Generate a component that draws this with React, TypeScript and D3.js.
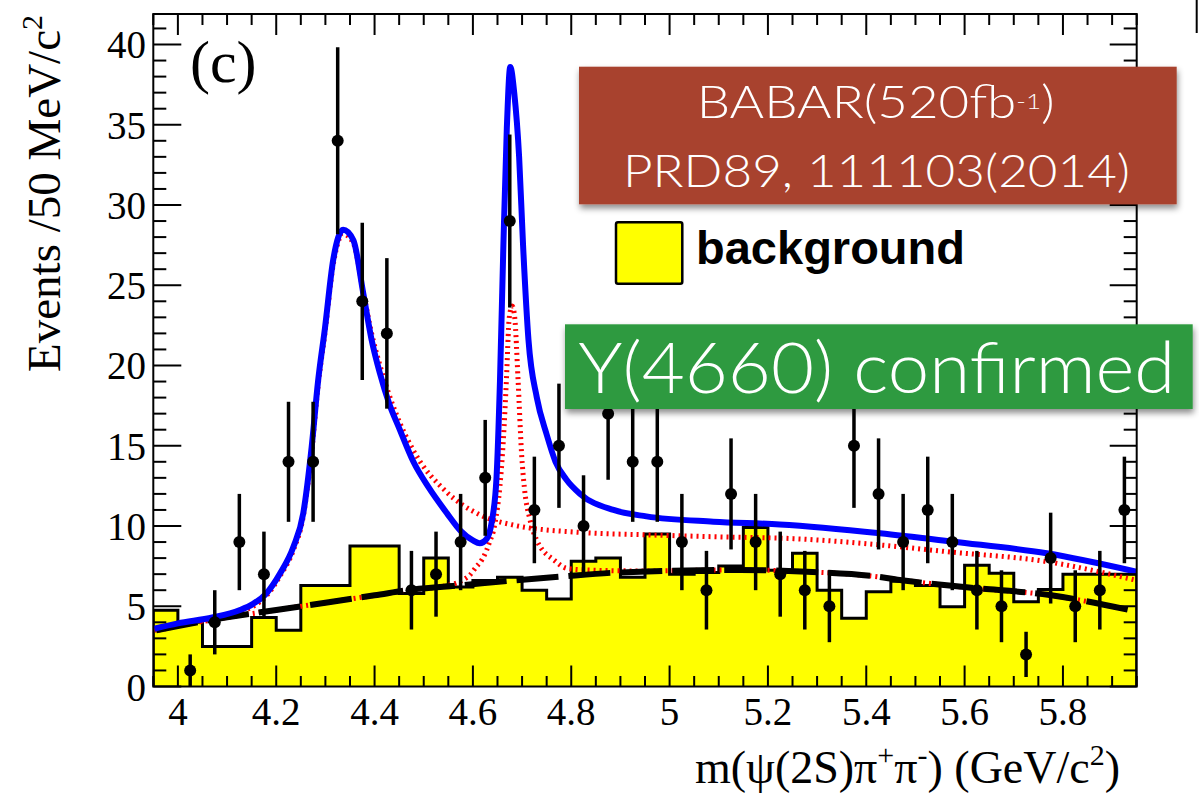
import React from 'react';
import * as d3 from 'd3';

// ---- data ----
const binCenters = [3.975, 4.025, 4.075, 4.125, 4.175, 4.225, 4.275, 4.325, 4.375, 4.425,
  4.475, 4.525, 4.575, 4.625, 4.675, 4.725, 4.775, 4.825, 4.875, 4.925,
  4.975, 5.025, 5.075, 5.125, 5.175, 5.225, 5.275, 5.325, 5.375, 5.425,
  5.475, 5.525, 5.575, 5.625, 5.675, 5.725, 5.775, 5.825, 5.875, 5.925];
const dataCounts = [0, 1, 4, 9, 7, 14, 14, 34, 24, 22,
  6, 7, 9, 13, 29, 11, 15, 10, 17, 14,
  14, 9, 6, 12, 9, 7, 6, 5, 15, 12,
  9, 11, 9, 6, 5, 2, 8, 5, 6, 11];
const dataErrors = [0, 1, 2, 3, 2.65, 3.74, 3.74, 5.83, 4.9, 4.69,
  2.45, 2.65, 3, 3.61, 5.39, 3.32, 3.87, 3.16, 4.12, 3.74,
  3.74, 3, 2.45, 3.46, 3, 2.65, 2.45, 2.24, 3.87, 3.46,
  3, 3.32, 3, 2.45, 2.24, 1.41, 2.83, 2.24, 2.45, 3.32];
const bkgHist = [4.75, 4.0, 2.5, 2.5, 4.3, 3.5, 6.3, 6.3, 8.75, 8.75,
  5.8, 8.0, 6.2, 6.6, 6.8, 6.0, 5.45, 7.8, 8.0, 6.8,
  9.5, 7.0, 7.1, 7.5, 9.9, 7.25, 8.3, 6.0, 4.25, 5.9,
  6.55, 6.3, 4.97, 7.55, 7.05, 5.28, 6.05, 7.0, 7.0, 7.0];

const totalFit: [number, number][] = [
  [3.952, 3.6], [4.0, 3.93], [4.07, 4.3], [4.125, 4.75], [4.153, 5.15], [4.18, 5.8],
  [4.208, 7.05], [4.235, 8.7], [4.255, 10.8], [4.272, 14.9], [4.285, 19.0], [4.299, 22.3],
  [4.316, 26.6], [4.336, 28.45], [4.357, 27.8], [4.377, 24.5], [4.394, 21.6], [4.411, 19.5],
  [4.43, 17.6], [4.45, 16.1], [4.479, 14.0], [4.51, 12.4], [4.547, 10.8], [4.575, 9.7],
  [4.6, 9.1], [4.614, 8.92], [4.628, 9.2], [4.638, 10.2], [4.648, 13.0], [4.655, 19.0],
  [4.662, 27.5], [4.669, 34.8], [4.676, 38.6], [4.684, 37.0], [4.694, 33.0], [4.702, 27.5],
  [4.713, 21.6], [4.73, 18.0], [4.75, 15.7], [4.768, 14.0], [4.79, 12.9], [4.818, 12.0],
  [4.886, 11.0], [4.953, 10.6], [5.089, 10.27], [5.224, 10.1], [5.428, 9.55], [5.577, 9.02],
  [5.767, 8.3], [5.95, 7.15]];

const fitNoY4660: [number, number][] = [
  [3.952, 3.5], [4.0, 3.85], [4.07, 4.2], [4.125, 4.65], [4.153, 5.0], [4.18, 5.65],
  [4.208, 6.9], [4.235, 8.5], [4.255, 10.6], [4.272, 14.6], [4.285, 18.7], [4.299, 22.0],
  [4.316, 26.3], [4.336, 28.2], [4.357, 27.6], [4.377, 24.6], [4.394, 22.0], [4.411, 20.0],
  [4.445, 16.9], [4.479, 14.7], [4.547, 12.1], [4.614, 10.7], [4.682, 10.06], [4.818, 9.6],
  [4.953, 9.45], [5.09, 9.33], [5.26, 9.2], [5.428, 8.82], [5.564, 8.4], [5.767, 7.78],
  [5.946, 6.64]];

const fitNoY4360: [number, number][] = [
  [3.96, 3.5], [4.0, 3.77], [4.1, 4.3], [4.2, 4.77], [4.3, 5.22], [4.4, 5.68], [4.479, 6.05],
  [4.54, 6.25], [4.58, 6.64], [4.594, 6.95], [4.608, 7.5], [4.614, 7.7], [4.628, 8.5],
  [4.635, 9.1], [4.641, 9.6], [4.645, 10.2], [4.655, 12.5], [4.662, 15.4], [4.668, 19.0],
  [4.674, 23.0], [4.68, 23.7], [4.685, 23.0], [4.692, 19.0], [4.699, 14.5], [4.705, 12.3],
  [4.716, 10.4], [4.73, 9.1], [4.737, 8.7], [4.764, 7.9], [4.791, 7.36], [4.83, 7.26],
  [4.94, 7.2], [5.14, 7.26], [5.28, 7.15], [5.41, 6.88], [5.47, 6.64], [5.6, 6.18],
  [5.77, 5.7], [5.935, 4.77]];

const bkgFit: [number, number][] = [
  [3.956, 3.5], [4.0, 3.77], [4.1, 4.31], [4.2, 4.77], [4.3, 5.22], [4.4, 5.68],
  [4.479, 6.05], [4.574, 6.3], [4.669, 6.57], [4.777, 6.84], [4.886, 7.09], [4.94, 7.15],
  [5.143, 7.26], [5.279, 7.15], [5.414, 6.88], [5.468, 6.64], [5.604, 6.18], [5.773, 5.7],
  [5.935, 4.77]];

const xMajorTicks = [4, 4.2, 4.4, 4.6, 4.8, 5, 5.2, 5.4, 5.6, 5.8];
const yMajorTicks = [0, 5, 10, 15, 20, 25, 30, 35, 40];

const SERIF = "'Liberation Serif', 'Times New Roman', serif";
const SANS_LIGHT = "Lato, 'Helvetica Neue', 'Open Sans', sans-serif";

export default function App() {
  const L = 153.3, R = 1136.7, T = 14, B = 686.5;
  const x = d3.scaleLinear().domain([3.95, 5.95]).range([L, R]);
  const y = d3.scaleLinear().domain([0, 41.9]).range([B, T]);
  const curve = d3.line<[number, number]>().x(d => x(d[0])).y(d => y(d[1])).curve(d3.curveMonotoneX);
  const lin = d3.line<[number, number]>();

  // histogram step path
  const hpts: [number, number][] = [[x(binCenters[0] - 0.025), y(0)]];
  binCenters.forEach((c, i) => {
    hpts.push([x(c - 0.025), y(bkgHist[i])]);
    hpts.push([x(c + 0.025), y(bkgHist[i])]);
  });
  hpts.push([x(binCenters[binCenters.length - 1] + 0.025), y(0)]);
  const histPath = lin(hpts) || '';

  const xMinor = d3.range(0, 41).map(i => +(3.95 + i * 0.05).toFixed(3))
    .filter(v => !xMajorTicks.some(t => Math.abs(t - v) < 1e-6));
  const yMinor = d3.range(0, 42).filter(v => v % 5 !== 0);

  return (
    <svg width={1199} height={793} style={{ position: 'absolute', left: 0, top: 0, background: '#fff' }}>
      <defs>
        <clipPath id="plot"><rect x={L} y={T} width={R - L} height={B - T} /></clipPath>
        <filter id="sh" x="-5%" y="-15%" width="112%" height="140%">
          <feDropShadow dx="1" dy="4" stdDeviation="3" floodColor="#000" floodOpacity="0.45" />
        </filter>
      </defs>
      <rect x={0} y={0} width={1199} height={793} fill="#fff" />

      <g clipPath="url(#plot)">
        <path d={histPath} fill="#ffff00" stroke="#000" strokeWidth={3} strokeLinejoin="miter" />
        <path d={curve(fitNoY4660) || ''} fill="none" stroke="#ff0000" strokeWidth={5} strokeDasharray="2 4" />
        <path d={curve(fitNoY4360) || ''} fill="none" stroke="#ff0000" strokeWidth={5} strokeDasharray="2 4" />
        <path d={curve(bkgFit) || ''} fill="none" stroke="#000" strokeWidth={6} strokeDasharray="42 10" />
        <path d={curve(totalFit) || ''} fill="none" stroke="#0000ff" strokeWidth={6} strokeLinejoin="miter" />
      </g>

      {/* data points */}
      <g>
        {binCenters.map((c, i) => dataCounts[i] > 0 ? (
          <g key={i}>
            <line x1={x(c)} x2={x(c)} y1={y(Math.max(0, dataCounts[i] - dataErrors[i]))} y2={y(dataCounts[i] + dataErrors[i])} stroke="#000" strokeWidth={3.5} />
            <circle cx={x(c)} cy={y(dataCounts[i])} r={6} fill="#000" />
          </g>
        ) : null)}
      </g>

      {/* frame and ticks */}
      <rect x={L} y={T} width={R - L} height={B - T} fill="none" stroke="#000" strokeWidth={2} />
      <g stroke="#000" strokeWidth={2}>
        {xMajorTicks.map(t => (
          <g key={'xM' + t}>
            <line x1={x(t)} x2={x(t)} y1={B} y2={B - 21} />
            <line x1={x(t)} x2={x(t)} y1={T} y2={T + 21} />
          </g>
        ))}
        {xMinor.map(t => (
          <g key={'xm' + t}>
            <line x1={x(t)} x2={x(t)} y1={B} y2={B - 10.5} />
            <line x1={x(t)} x2={x(t)} y1={T} y2={T + 11} />
          </g>
        ))}
        {yMajorTicks.map(t => (
          <g key={'yM' + t}>
            <line x1={L} x2={L + 28} y1={y(t)} y2={y(t)} />
            <line x1={R} x2={R - 27} y1={y(t)} y2={y(t)} />
          </g>
        ))}
        {yMinor.map(t => (
          <g key={'ym' + t}>
            <line x1={L} x2={L + 13} y1={y(t)} y2={y(t)} />
            <line x1={R} x2={R - 13} y1={y(t)} y2={y(t)} />
          </g>
        ))}
      </g>

      {/* tick labels */}
      <g fontFamily={SERIF} fontSize={39} fill="#000">
        {xMajorTicks.map(t => (
          <text key={'xl' + t} x={x(t)} y={725} textAnchor="middle">{d3.format('~g')(t)}</text>
        ))}
        {yMajorTicks.map(t => (
          <text key={'yl' + t} x={146} y={y(t) + 14} textAnchor="end">{t}</text>
        ))}
      </g>

      {/* axis titles */}
      <text transform="translate(60,372) rotate(-90)" fontFamily={SERIF} fontSize={47} fill="#000">
        Events /50 MeV/c<tspan fontSize={30} dy={-18}>2</tspan>
      </text>
      <text x={695} y={783} fontFamily={SERIF} fontSize={46} fill="#000">
        m(ψ(2S)π<tspan fontSize={30} dy={-18}>+</tspan><tspan dy={18}>π</tspan><tspan fontSize={30} dy={-18}>-</tspan><tspan dy={18}>) (GeV/c</tspan><tspan fontSize={30} dy={-18}>2</tspan><tspan dy={18}>)</tspan>
      </text>
      <text x={190} y={82} fontFamily={SERIF} fontSize={60} fill="#000">(c)</text>

      {/* legend */}
      <rect x={616} y={222.3} width={66.3} height={61.4} rx={2} fill="#ffff00" stroke="#000" strokeWidth={2.5} />
      <text x={696} y={264.3} fontFamily="'Liberation Sans', Arial, sans-serif" fontWeight="bold" fontSize={47} fill="#000">background</text>

      {/* annotation boxes */}
      <rect x={579} y={66.7} width={597.7} height={137.6} fill="#a8432f" filter="url(#sh)" />
      <text x={696.7} y={118.3} fontFamily={SANS_LIGHT} fontWeight={300} fontSize={44.5} fill="#fff" textLength={358} lengthAdjust="spacingAndGlyphs">
        BABAR(520fb<tspan fontSize={22} dy={-9}>-1</tspan><tspan dy={9}>)</tspan>
      </text>
      <text x={623} y={186.7} fontFamily={SANS_LIGHT} fontWeight={300} fontSize={44.5} fill="#fff" textLength={507} lengthAdjust="spacingAndGlyphs">PRD89, 111103(2014)</text>

      <rect x={565} y={324.3} width={627.7} height={84.7} fill="#2f9a40" filter="url(#sh)" />
      <text x={578.3} y={393.3} fontFamily={SANS_LIGHT} fontWeight={300} fontSize={70} fill="#fff" textLength={597} lengthAdjust="spacingAndGlyphs">Y(4660) confirmed</text>

      <line x1={1196.7} x2={1196.7} y1={0} y2={33} stroke="#000" strokeWidth={2} />
    </svg>
  );
}
